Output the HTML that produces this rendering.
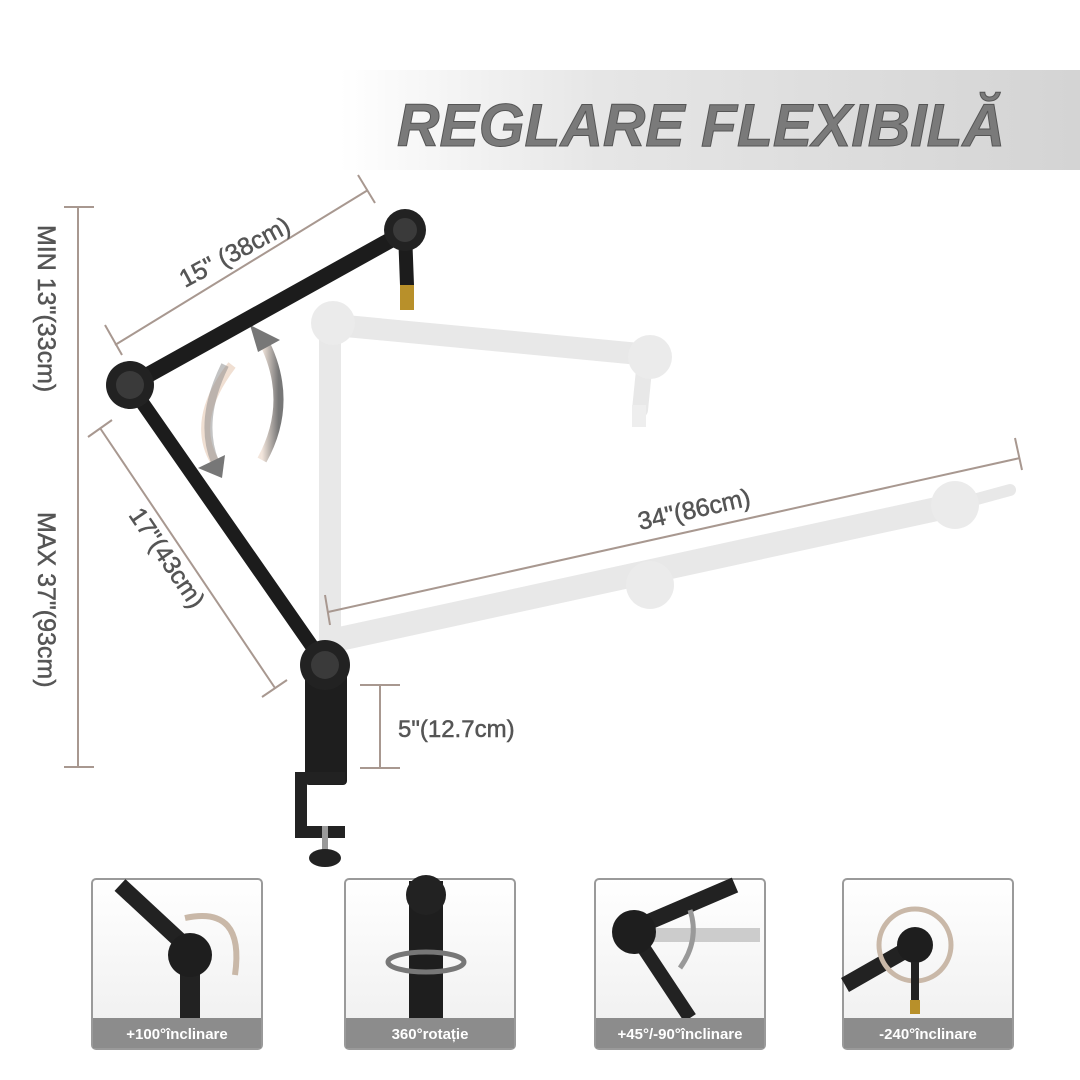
<!DOCTYPE html>
<html><head><meta charset="utf-8"><style>
html,body{margin:0;padding:0;background:#fff;}
svg{display:block}
text{font-family:"Liberation Sans",sans-serif}
</style></head><body>
<svg width="1080" height="1080" viewBox="0 0 1080 1080" xmlns="http://www.w3.org/2000/svg">
<defs>
<linearGradient id="ban" x1="0" x2="1" y1="0" y2="0">
<stop offset="0" stop-color="#fff"/><stop offset="0.35" stop-color="#e6e6e6"/><stop offset="1" stop-color="#d4d4d4"/></linearGradient>
<linearGradient id="arrA" x1="0" x2="1"><stop offset="0" stop-color="#f3e6dc"/><stop offset="1" stop-color="#777"/></linearGradient>
<linearGradient id="panelBg" x1="0" y1="0" x2="0" y2="1"><stop offset="0" stop-color="#fff"/><stop offset="1" stop-color="#eee"/></linearGradient>
</defs>
<rect x="340" y="70" width="740" height="100" fill="url(#ban)"/>
<text x="397" y="146" font-size="60" font-weight="bold" font-style="italic" fill="#7a7a7a" stroke="#555" stroke-width="1" textLength="608" lengthAdjust="spacingAndGlyphs">REGLARE FLEXIBILĂ</text>

<g stroke="#a89890" stroke-width="2">
<line x1="78" y1="207" x2="78" y2="767"/>
<line x1="64" y1="207" x2="94" y2="207"/>
<line x1="64" y1="767" x2="94" y2="767"/>
</g>
<g font-size="25" fill="#555" stroke="#555" stroke-width="0.5">
<text transform="translate(38,225) rotate(90)">MIN 13"(33cm)</text>
<text transform="translate(38,512) rotate(90)">MAX 37"(93cm)</text>
</g>

<g opacity="0.85">
<g stroke="#e4e4e4" stroke-linecap="round">
<line x1="330" y1="645" x2="330" y2="330" stroke-width="22"/>
<line x1="335" y1="325" x2="650" y2="355" stroke-width="22"/>
<line x1="645" y1="360" x2="640" y2="410" stroke-width="16"/>
<line x1="335" y1="640" x2="955" y2="505" stroke-width="24"/>
<line x1="955" y1="505" x2="1010" y2="490" stroke-width="12"/>
</g>
<circle cx="333" cy="323" r="22" fill="#e8e8e8"/>
<circle cx="650" cy="357" r="22" fill="#e8e8e8"/>
<circle cx="650" cy="585" r="24" fill="#e8e8e8"/>
<circle cx="955" cy="505" r="24" fill="#e8e8e8"/>
<rect x="632" y="405" width="14" height="22" fill="#ececec"/>
</g>

<g stroke="#a89890" stroke-width="2">
<line x1="328" y1="612" x2="1020" y2="458"/>
<line x1="325" y1="595" x2="330" y2="625"/>
<line x1="1015" y1="438" x2="1022" y2="470"/>
<line x1="115" y1="345" x2="368" y2="190"/>
<line x1="105" y1="325" x2="122" y2="355"/>
<line x1="358" y1="175" x2="375" y2="203"/>
<line x1="100" y1="428" x2="275" y2="688"/>
<line x1="88" y1="437" x2="112" y2="420"/>
<line x1="262" y1="697" x2="287" y2="680"/>
<line x1="380" y1="685" x2="380" y2="768"/>
<line x1="360" y1="685" x2="400" y2="685"/>
<line x1="360" y1="768" x2="400" y2="768"/>
</g>
<g font-size="25" fill="#555" stroke="#555" stroke-width="0.5">
<text transform="translate(640,530) rotate(-12.5)">34"(86cm)</text>
<text transform="translate(185,288) rotate(-28)">15" (38cm)</text>
<text transform="translate(128,515) rotate(56)">17"(43cm)</text>
<text x="398" y="737" font-size="24">5"(12.7cm)</text>
</g>

<path d="M232,365 Q190,420 215,462" stroke="#f0dfd2" stroke-width="9" fill="none"/>
<path d="M262,460 Q295,400 262,338" stroke="url(#arrA)" stroke-width="10" fill="none"/>
<polygon points="250,325 280,340 258,352" fill="#777"/>
<path d="M225,365 Q198,420 215,462" stroke="#888" stroke-width="8" fill="none" opacity="0.5"/>
<polygon points="198,468 225,455 222,478" fill="#777"/>

<g stroke="#1c1c1c" stroke-linecap="round">
<line x1="325" y1="665" x2="130" y2="385" stroke-width="14"/>
<line x1="130" y1="385" x2="405" y2="232" stroke-width="16"/>
<line x1="405" y1="232" x2="407" y2="285" stroke-width="14"/>
</g>
<rect x="400" y="285" width="14" height="25" fill="#b8902a"/>
<circle cx="130" cy="385" r="24" fill="#222"/>
<circle cx="130" cy="385" r="14" fill="#3a3a3a"/>
<circle cx="405" cy="230" r="21" fill="#222"/>
<circle cx="405" cy="230" r="12" fill="#3a3a3a"/>
<rect x="305" y="660" width="42" height="125" rx="4" fill="#1e1e1e"/>
<circle cx="325" cy="665" r="25" fill="#222"/>
<circle cx="325" cy="665" r="14" fill="#3a3a3a"/>
<path d="M345,772 L295,772 L295,838 L345,838 L345,826 L307,826 L307,784 L345,784 Z" fill="#222"/>
<rect x="322" y="826" width="6" height="24" fill="#999"/>
<ellipse cx="325" cy="858" rx="16" ry="9" fill="#222"/>

<g font-size="15" font-weight="bold" fill="#fff" text-anchor="middle">
<g>
<rect x="92" y="879" width="170" height="170" rx="4" fill="url(#panelBg)" stroke="#9a9a9a" stroke-width="2"/>
<line x1="120" y1="885" x2="190" y2="950" stroke="#222" stroke-width="16"/>
<rect x="180" y="955" width="20" height="65" fill="#222"/>
<circle cx="190" cy="955" r="22" fill="#1e1e1e"/>
<path d="M185,918 Q245,905 235,975" stroke="#c9b8a8" stroke-width="6" fill="none"/>
<rect x="93" y="1018" width="168" height="30" fill="#8c8c8c"/>
<text x="177" y="1039">+100°înclinare</text>
</g>
<g>
<rect x="345" y="879" width="170" height="170" rx="4" fill="url(#panelBg)" stroke="#9a9a9a" stroke-width="2"/>
<rect x="409" y="881" width="34" height="137" fill="#1e1e1e"/>
<circle cx="426" cy="895" r="20" fill="#222"/>
<ellipse cx="426" cy="962" rx="38" ry="10" fill="none" stroke="#777" stroke-width="5"/>
<rect x="346" y="1018" width="168" height="30" fill="#8c8c8c"/>
<text x="430" y="1039">360°rotație</text>
</g>
<g>
<rect x="595" y="879" width="170" height="170" rx="4" fill="url(#panelBg)" stroke="#9a9a9a" stroke-width="2"/>
<line x1="630" y1="930" x2="735" y2="885" stroke="#222" stroke-width="16"/>
<line x1="640" y1="935" x2="760" y2="935" stroke="#ccc" stroke-width="14"/>
<line x1="635" y1="935" x2="690" y2="1018" stroke="#222" stroke-width="14"/>
<circle cx="634" cy="932" r="22" fill="#1e1e1e"/>
<path d="M690,910 Q700,940 680,968" stroke="#999" stroke-width="5" fill="none"/>
<rect x="596" y="1018" width="168" height="30" fill="#8c8c8c"/>
<text x="680" y="1039">+45°/-90°înclinare</text>
</g>
<g>
<rect x="843" y="879" width="170" height="170" rx="4" fill="url(#panelBg)" stroke="#9a9a9a" stroke-width="2"/>
<line x1="845" y1="985" x2="915" y2="945" stroke="#222" stroke-width="16"/>
<circle cx="915" cy="945" r="36" fill="none" stroke="#c9b8a8" stroke-width="5"/>
<circle cx="915" cy="945" r="18" fill="#1e1e1e"/>
<rect x="911" y="962" width="8" height="40" fill="#222"/>
<rect x="910" y="1000" width="10" height="14" fill="#b8902a"/>
<rect x="844" y="1018" width="168" height="30" fill="#8c8c8c"/>
<text x="928" y="1039">-240°înclinare</text>
</g>
</g>
</svg>
</body></html>
